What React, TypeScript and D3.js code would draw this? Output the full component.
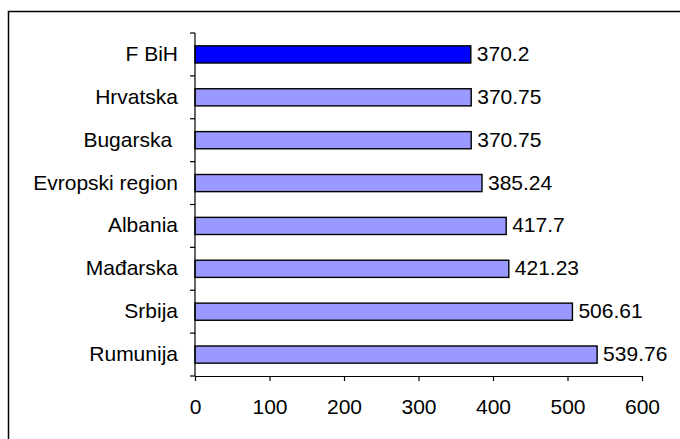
import React, { useRef, useEffect } from 'react';
import * as d3 from 'd3';

const categories = ['F BiH', 'Hrvatska', 'Bugarska ', 'Evropski region', 'Albania', 'Mađarska', 'Srbija', 'Rumunija'];
const values = [370.2, 370.75, 370.75, 385.24, 417.7, 421.23, 506.61, 539.76];
const xTicks = [0, 100, 200, 300, 400, 500, 600];
const highlight = 'F BiH';

const App: React.FC = () => {
  const svgRef = useRef<SVGSVGElement>(null);

  useEffect(() => {
    if (!svgRef.current) return;
    const width = 680;
    const height = 439;
    const margin = { top: 33, left: 195, right: 38, bottom: 63 };
    const font = 'Arial, "Liberation Sans", sans-serif';

    const svg = d3.select(svgRef.current);
    svg.selectAll('*').remove();

    // outer chart frame (only top and left edges fall inside the picture)
    svg.append('rect')
      .attr('x', 8.5).attr('y', 11.5)
      .attr('width', 800).attr('height', 600)
      .attr('fill', 'none').attr('stroke', '#000').attr('stroke-width', 1.5);

    const x = d3.scaleLinear().domain([0, 600]).range([margin.left, width - margin.right]);
    const y = d3.scaleBand<string>()
      .domain(categories)
      .range([margin.top, height - margin.bottom])
      .paddingInner(0.6)
      .paddingOuter(0.3);

    const data = categories.map((c, i) => ({ c, v: values[i] }));

    svg.append('g').selectAll('rect').data(data).join('rect')
      .attr('x', x(0))
      .attr('y', d => y(d.c)!)
      .attr('width', d => x(d.v) - x(0))
      .attr('height', y.bandwidth())
      .attr('fill', d => (d.c === highlight ? '#0000FF' : '#9999FF'))
      .attr('stroke', '#000')
      .attr('stroke-width', 1.4);

    // value labels
    svg.append('g').selectAll('text').data(data).join('text')
      .attr('x', d => x(d.v) + 6)
      .attr('y', d => y(d.c)! + y.bandwidth() / 2 - 1)
      .attr('dominant-baseline', 'central')
      .attr('font-family', font).attr('font-size', 21).attr('fill', '#000')
      .text(d => String(d.v));

    // category labels
    svg.append('g').selectAll('text').data(data).join('text')
      .attr('x', 178)
      .attr('y', d => y(d.c)! + y.bandwidth() / 2 - 1)
      .attr('text-anchor', 'end')
      .attr('dominant-baseline', 'central')
      .style('white-space', 'pre')
      .attr('font-family', font).attr('font-size', 21).attr('fill', '#000')
      .text(d => d.c);

    // y axis with ticks between categories
    const step = y.step();
    const y0 = y.range()[0];
    const bounds = d3.range(categories.length + 1).map(i => y0 + i * step);
    const ya = svg.append('g').attr('stroke', '#000').attr('stroke-width', 1.2);
    ya.append('line').attr('x1', x(0)).attr('x2', x(0)).attr('y1', y0).attr('y2', height - margin.bottom);
    ya.selectAll('line.t').data(bounds).join('line').attr('class', 't')
      .attr('x1', x(0) - 5).attr('x2', x(0)).attr('y1', d => d).attr('y2', d => d);

    // x axis
    svg.append('g')
      .attr('transform', `translate(0,${height - margin.bottom})`)
      .call(d3.axisBottom(x).tickValues(xTicks).tickSize(5).tickPadding(18).tickSizeOuter(0))
      .call(g => g.selectAll('path,line').attr('stroke', '#000').attr('stroke-width', 1.2))
      .call(g => g.selectAll('text').attr('font-family', font).attr('font-size', 21).attr('fill', '#000'));
  }, []);

  return (
    <svg
      ref={svgRef}
      width={680}
      height={439}
      style={{ position: 'absolute', left: 0, top: 0, background: '#fff', overflow: 'hidden' }}
    />
  );
};

export default App;
